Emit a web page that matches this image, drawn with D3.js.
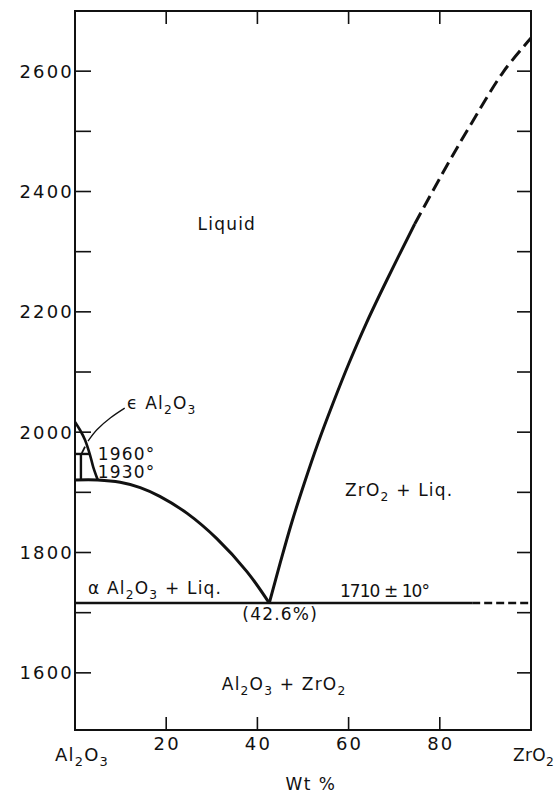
<!DOCTYPE html>
<html><head><meta charset="utf-8">
<script src="https://cdn.jsdelivr.net/npm/d3@7"></script>
<style>
body{margin:0;background:#fff}
svg text{font-family:"DejaVu Sans",sans-serif;fill:#111}
</style>
</head><body>
<svg id="c" width="558" height="795"></svg>
<script>
// ---------- data ----------
const xDomain = [0, 100];
const yDomain = [1505, 2700];
const xTicks = [20, 40, 60, 80];
const yTicks = [1600, 1700, 1800, 1900, 2000, 2100, 2200, 2300, 2400, 2500, 2600];
const yTickLabels = [1600, 1800, 2000, 2200, 2400, 2600];
const axisTitle = "Wt %";
const leftEndLabel = [["Al"], ["2", true], ["O"], ["3", true]];
const rightEndLabel = [["ZrO"], ["2", true]];

// liquidus Al2O3 side  [wt% ZrO2, °C]
const leftLiquidus = [[0, 1920.5], [5.0, 1920.5], [9.9, 1916.7], [14.3, 1907.9], [18.6, 1893.3], [24.6, 1865.0], [31.1, 1823.1], [37.7, 1768.3], [42.6, 1716]];
// liquidus ZrO2 side (solid part, then dashed extrapolation)
const rightLiquidusSolid = [[42.6, 1716], [45.0, 1782.6], [47.5, 1849.1], [50.3, 1915.5], [53.3, 1982.0], [56.6, 2048.5], [60.1, 2115.0], [63.9, 2181.4], [68.5, 2254.6], [74.5, 2346.0]];
const rightLiquidusDashed = [[74.5, 2346.0], [81.5, 2442.4], [87.0, 2513.9], [93.9, 2598.6], [100, 2655]];
// eutectic horizontal
const eutecticT = 1716;
const eutecticSolid = [0, 87.1];
const eutecticDashed = [87.1, 100];
// epsilon-Al2O3 small field
const epsilonCurve = [[0, 2017], [1.1, 2003.6], [2.2, 1987], [3.3, 1962], [4.0, 1942], [5.0, 1920.5]];
const line1960 = [[0, 1963.8], [3.1, 1963.8]];
const vertical1930 = [[1.3, 1963.8], [1.3, 1920.5]];
const smallDiag = [[1.5, 1965], [2.2, 1976]];
const leader = [[2.85, 1985], [4.8, 2004], [7.8, 2024], [10.9, 2040]];

// annotations: [wt%, °C, anchor, parts, font size, width]
const annotations = [
  [33.3, 2336, "middle", [["Liquid"]], 17, 0],
  [11.4, 2038.5, "start", [["\u03F5 Al"], ["2", true], ["O"], ["3", true]], 17, 0],
  [5.0, 1953.8, "start", [["1960°"]], 17, 0],
  [5.0, 1923.9, "start", [["1930°"]], 17, 0],
  [2.85, 1731, "start", [["\u03B1 Al"], ["2", true], ["O"], ["3", true], [" + Liq."]], 17, 0],
  [45.0, 1688, "middle", [["(42.6%)"]], 17, 0],
  [58.1, 1726, "start", [["1710 ± 10°"]], 17, 90],
  [59.2, 1894, "start", [["ZrO"], ["2", true], [" + Liq."]], 17, 0],
  [32.2, 1571, "start", [["Al"], ["2", true], ["O"], ["3", true], [" + ZrO"], ["2", true]], 17, 0]
];

// ---------- drawing ----------
const svg = d3.select("#c");
const x = d3.scaleLinear().domain(xDomain).range([75, 531]);
const y = d3.scaleLinear().domain(yDomain).range([730, 11]);
const [x0, x1] = x.range();
const [y0, y1] = y.range();

const line = d3.line().x(d => x(d[0])).y(d => y(d[1]));
const smooth = d3.line().x(d => x(d[0])).y(d => y(d[1])).curve(d3.curveCatmullRom.alpha(0.5));

// ticks
const tk = svg.append("g").attr("stroke", "#111").attr("stroke-width", 1.6);
yTicks.forEach(t => {
  tk.append("line").attr("x1", x0).attr("x2", x0 + 16).attr("y1", y(t)).attr("y2", y(t));
  tk.append("line").attr("x1", x1 - 14).attr("x2", x1).attr("y1", y(t)).attr("y2", y(t));
});
xTicks.forEach(t => {
  tk.append("line").attr("x1", x(t)).attr("x2", x(t)).attr("y1", y0).attr("y2", y0 - 13);
  tk.append("line").attr("x1", x(t)).attr("x2", x(t)).attr("y1", y1).attr("y2", y1 + 13);
});

// frame
svg.append("rect").attr("x", x0).attr("y", y1).attr("width", x1 - x0).attr("height", y0 - y1)
  .attr("fill", "none").attr("stroke", "#111").attr("stroke-width", 2);

// tick labels
const tl = svg.append("g").attr("font-size", 18).attr("letter-spacing", 2.2);
yTickLabels.forEach(t => {
  tl.append("text").attr("x", x0 - 1).attr("y", y(t) + 6.5).attr("text-anchor", "end").text(t);
});
xTicks.forEach(t => {
  tl.append("text").attr("x", x(t) + 1).attr("y", y0 + 20).attr("text-anchor", "middle").text(t);
});

function richText(g, px, py, anchor, parts, size, spacing) {
  const t = g.append("text").attr("x", px).attr("y", py).attr("text-anchor", anchor)
    .attr("font-size", size).attr("letter-spacing", spacing);
  let shifted = false;
  parts.forEach(p => {
    const s = t.append("tspan").text(p[0]);
    if (p[1]) { s.attr("font-size", size * 0.72).attr("dy", shifted ? 0 : 5); shifted = true; }
    else if (shifted) { s.attr("dy", -5); shifted = false; }
  });
  return t;
}

// axis end labels and title
const al = svg.append("g");
richText(al, 55, 761, "start", leftEndLabel, 18, 1.2);
richText(al, 513, 761, "start", rightEndLabel, 17, 0.3);
al.append("text").attr("x", 311).attr("y", 790).attr("text-anchor", "middle")
  .attr("font-size", 17).attr("letter-spacing", 1.5).text(axisTitle);

// curves
const cv = svg.append("g").attr("fill", "none").attr("stroke", "#111").attr("stroke-linecap", "butt");
cv.append("path").attr("d", line([[eutecticSolid[0], eutecticT], [eutecticSolid[1], eutecticT]])).attr("stroke-width", 2.6);
cv.append("path").attr("d", line([[eutecticDashed[0], eutecticT], [eutecticDashed[1], eutecticT]]))
  .attr("stroke-width", 2.6).attr("stroke-dasharray", "8,4");
cv.append("path").attr("d", smooth(leftLiquidus)).attr("stroke-width", 3);
cv.append("path").attr("d", smooth(rightLiquidusSolid)).attr("stroke-width", 3);
cv.append("path").attr("d", smooth(rightLiquidusDashed)).attr("stroke-width", 3).attr("stroke-dasharray", "13,6");
cv.append("path").attr("d", smooth(epsilonCurve)).attr("stroke-width", 2.6);
cv.append("path").attr("d", line(line1960)).attr("stroke-width", 2.4);
cv.append("path").attr("d", line(vertical1930)).attr("stroke-width", 2.4);
cv.append("path").attr("d", line(smallDiag)).attr("stroke-width", 1.8);
cv.append("path").attr("d", d3.line().x(d => x(d[0])).y(d => y(d[1])).curve(d3.curveNatural)(leader)).attr("stroke-width", 1.3);

// annotations
const an = svg.append("g");
annotations.forEach(a => {
  const t = richText(an, x(a[0]), y(a[1]), a[2], a[3], a[4], a[5] ? 0 : 1.2);
  if (a[5]) t.attr("textLength", a[5]).attr("lengthAdjust", "spacing");
});
</script>
</body></html>
